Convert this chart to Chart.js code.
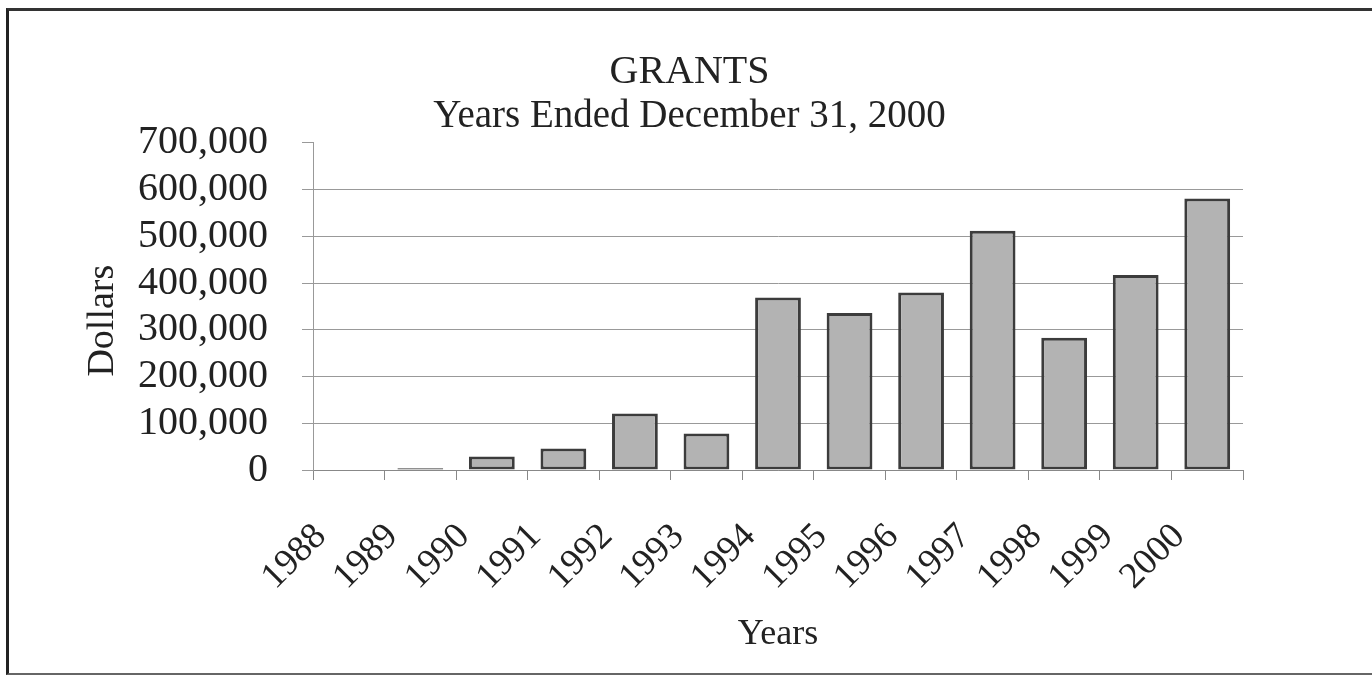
<!DOCTYPE html>
<html>
<head>
<meta charset="utf-8">
<script src="https://cdn.jsdelivr.net/npm/chart.js@4.4.1/dist/chart.umd.min.js"></script>
<style>
  html, body { margin: 0; padding: 0; background: #fff; }
  #wrap { position: relative; width: 1372px; height: 677px; overflow: hidden; }
  #frame {
    position: absolute; left: 6px; top: 8px; width: 1380px; height: 662px;
    border-left: 3px solid #222; border-top: 3px solid #333; border-bottom: 2px solid #666;
    pointer-events: none;
  }
  canvas { position: absolute; left: 7px; top: 0; }
</style>
</head>
<body>
<div id="wrap">
  <canvas id="chart" width="1365" height="677"></canvas>
  <div id="frame"></div>
</div>
<script>
// Grants by year
const years = ['1988', '1989', '1990', '1991', '1992', '1993', '1994',
  '1995', '1996', '1997', '1998', '1999', '2000'];
const grants = [0, 4000, 29000, 46000, 121000, 78000, 369000,
  336000, 380000, 512000, 283000, 417000, 581000];
const yTicks = [0, 100000, 200000, 300000, 400000, 500000, 600000, 700000];

const serif = 'Liberation Serif';

const ctx = document.getElementById('chart').getContext('2d');

// left/right padding chosen so the title sits near the page centre;
// the y-axis title gets a negative outer padding so it can sit further left
const chart = new Chart(ctx, {
  type: 'bar',
  data: {
    labels: years,
    datasets: [
      {
        label: 'Grants',
        data: grants,
        backgroundColor: '#b3b3b3',
        borderColor: '#3c3c3c',
        borderWidth: 3,
        borderSkipped: false,
        barPercentage: 0.64,
        categoryPercentage: 1.0,
      },
    ],
  },
  options: {
    responsive: false,
    animation: false,
    layout: {
      padding: { left: 129, right: 129, top: 48, bottom: 21 },
    },
    plugins: {
      legend: { display: false },
      tooltip: { enabled: false },
      title: {
        display: true,
        text: 'GRANTS',
        color: '#222',
        font: { family: serif, size: 40, weight: 'normal' },
        padding: { top: 0, bottom: -3 },
      },
      subtitle: {
        display: true,
        text: 'Years Ended December 31, 2000',
        color: '#222',
        font: { family: serif, size: 39, weight: 'normal' },
        padding: { top: 0, bottom: 3 },
      },
    },
    scales: {
      x: {
        afterFit: (scale) => {
          scale.height = 186;
          scale.paddingLeft = 0;
        },
        grid: {
          display: true,
          offset: true,
          drawOnChartArea: false,
          tickLength: 10,
          tickColor: '#888',
        },
        border: { color: '#888', width: 1 },
        ticks: {
          color: '#222',
          font: { family: serif, size: 37 },
          autoSkip: false,
          minRotation: 45,
          maxRotation: 45,
          padding: 35,
          labelOffset: -28,
        },
        title: {
          display: true,
          text: 'Years',
          color: '#222',
          font: { family: serif, size: 36 },
          padding: { top: 36, bottom: 0 },
        },
      },
      y: {
        min: 0,
        max: 700000,
        afterBuildTicks: (axis) => {
          axis.ticks = yTicks.map((v) => ({ value: v }));
        },
        afterFit: (scale) => {
          scale.width = 177;
        },
        grid: {
          color: (c) => (c.tick && c.tick.value === 700000 ? 'rgba(0,0,0,0)' : '#999'),
          tickColor: '#999',
          tickLength: 11,
          lineWidth: 1,
        },
        border: { color: '#999', width: 1 },
        ticks: {
          color: '#222',
          font: { family: serif, size: 40 },
          autoSkip: false,
          padding: 34,
          callback: (v) => Number(v).toLocaleString('en-US'),
        },
        title: {
          display: true,
          // trailing spaces nudge the rotated word a little lower, as in the original
          text: 'Dollars\u00a0\u00a0\u00a0',
          color: '#222',
          font: { family: serif, size: 38 },
          padding: { top: -56, bottom: 12 },
        },
      },
    },
  },
});
</script>
</body>
</html>
